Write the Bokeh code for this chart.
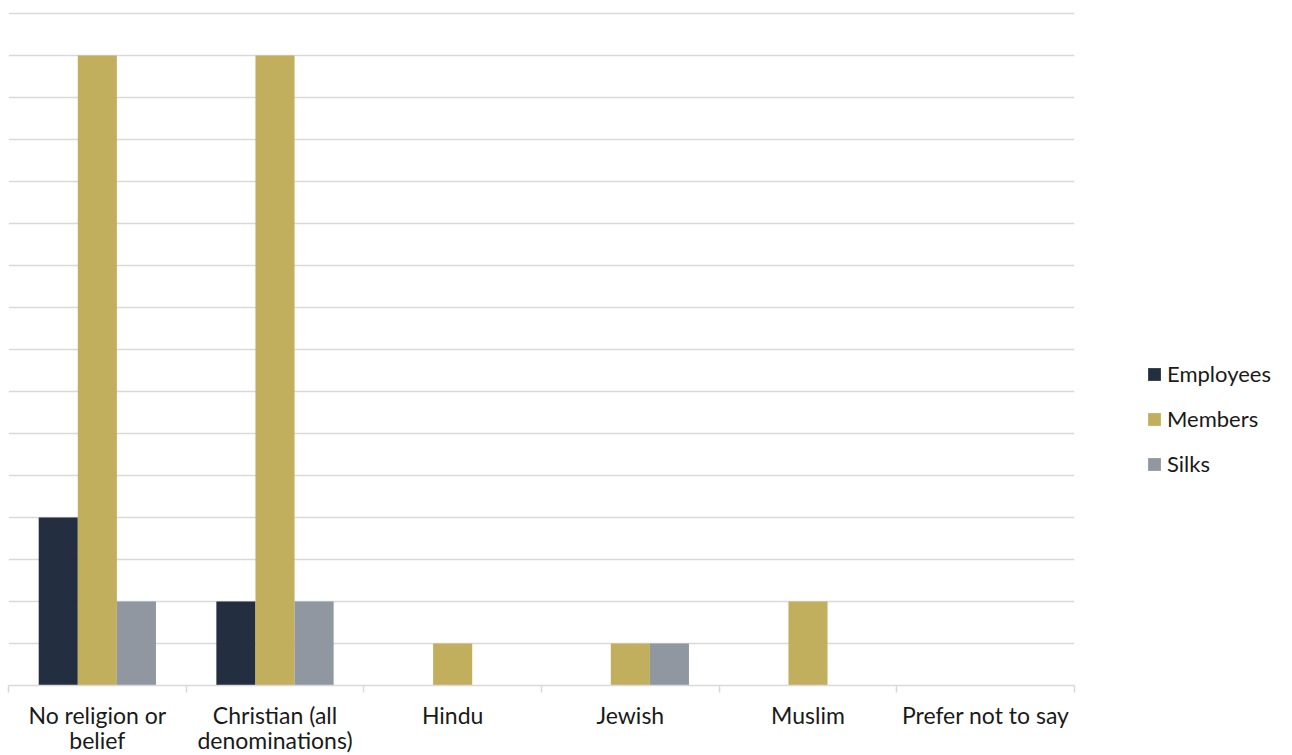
from bokeh.plotting import figure
from bokeh.models import ColumnDataSource, Range1d, FixedTicker, Legend, LegendItem
from bokeh.embed import file_html
from bokeh.resources import INLINE

categories = ["No religion or\nbelief", "Christian (all\ndenominations)", "Hindu", "Jewish", "Muslim", "Prefer not to say"]
employees = [4, 2, 0, 0, 0, 0]
members = [15, 15, 1, 1, 2, 0]
silks = [2, 2, 0, 1, 0, 0]
series_names = ["Employees", "Members", "Silks"]
colors = ["#232F40", "#C2AF5E", "#9097A1"]

n = len(categories)
centers = [i + 0.5 for i in range(n)]
bw = 0.22

p = figure(frame_width=1066, frame_height=677, output_backend="svg", toolbar_location=None,
           x_range=Range1d(0, n), y_range=Range1d(0, 16.12),
           min_border_left=8, min_border_top=8, min_border_right=0, min_border_bottom=0)
p.outline_line_color = None
p.background_fill_color = "white"
p.border_fill_color = "white"

renderers = []
for k, (vals, col) in enumerate(zip([employees, members, silks], colors)):
    off = (k - 1) * bw
    src = ColumnDataSource(dict(x=[c + off for c in centers], top=vals))
    r = p.vbar(x="x", top="top", bottom=0, width=bw, source=src, fill_color=col, line_color=None)
    renderers.append(r)

p.yaxis.visible = False
p.ygrid.ticker = FixedTicker(ticks=list(range(1, 17)))
p.ygrid.grid_line_color = "#D9D9D9"
p.ygrid.grid_line_width = 1.5
p.xgrid.visible = False

ax = p.xaxis[0]
ax.ticker = FixedTicker(ticks=centers, minor_ticks=list(range(0, n + 1)))
ax.major_label_overrides = {c: lab for c, lab in zip(centers, categories)}
ax.major_tick_line_color = None
ax.major_tick_out = 0
ax.major_tick_in = 0
ax.minor_tick_line_color = "#D9D9D9"
ax.minor_tick_line_width = 1.5
ax.minor_tick_out = 7
ax.minor_tick_in = 0
ax.axis_line_color = "#D9D9D9"
ax.axis_line_width = 1.5
ax.major_label_text_font = "Lato"
ax.major_label_text_font_size = "23px"
ax.major_label_text_line_height = 0.9
ax.major_label_text_color = "#1a1a1a"
ax.major_label_standoff = 8

legend = Legend(items=[LegendItem(label=nm, renderers=[r]) for nm, r in zip(series_names, renderers)],
                location=(72, 208))
legend.label_text_font = "Lato"
legend.label_text_font_size = "22px"
legend.label_text_color = "#1a1a1a"
legend.glyph_width = 16
legend.glyph_height = 16
legend.label_height = 22
legend.label_standoff = 5
legend.spacing = 18
legend.padding = 0
legend.margin = 0
legend.border_line_color = None
legend.background_fill_alpha = 0
p.add_layout(legend, "right")

open("out.html", "w").write(file_html(p, INLINE))
